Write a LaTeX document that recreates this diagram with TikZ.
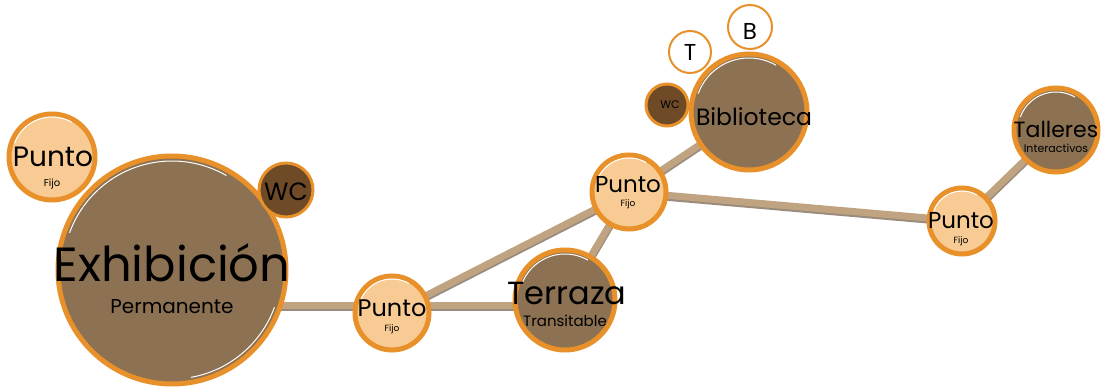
\documentclass[tikz,border=0pt]{standalone}
\usepackage{fontspec}
\setmainfont{Poppins}
\usetikzlibrary{backgrounds}
\definecolor{ring}{HTML}{E8902A}
\definecolor{light}{HTML}{F7CB93}
\definecolor{mid}{HTML}{8C7152}
\definecolor{dark}{HTML}{6E4A26}
\definecolor{link}{HTML}{C0A482}
\definecolor{linkshadow}{HTML}{9A8B7C}
\tikzset{
  room/.style={circle, draw=ring, line width=5pt, inner sep=0pt, minimum size=#1},
  lightroom/.style={room=#1, fill=light},
  midroom/.style={room=#1, fill=mid},
  darkroom/.style={room=#1, fill=dark, line width=3pt},
  smallroom/.style={circle, draw=ring, line width=2pt, fill=white, inner sep=0pt, minimum size=#1},
  txt/.style={inner sep=0pt, text=black, font=#1},
  link/.style={line width=7pt, draw=link},
  linksh/.style={line width=8pt, draw=linkshadow},
}
\begin{document}
\begin{tikzpicture}[x=1pt,y=-1pt]
\useasboundingbox (0,0) rectangle (1105,390);
% rooms
\node[midroom=228pt] (ex) at (172,270) {};
\node[lightroom=86pt] (p1) at (52,157) {};
\node[darkroom=54pt] (wc1) at (286,190) {};
\node[lightroom=74pt] (p2) at (392,313) {};
\node[midroom=100pt] (te) at (565,300) {};
\node[lightroom=74pt] (p3) at (629,192) {};
\node[midroom=116pt] (bi) at (749,112) {};
\node[darkroom=42pt] (wc2) at (667,105) {};
\node[smallroom=42pt] (t) at (690,52) {};
\node[smallroom=44pt] (b) at (750,27) {};
\node[midroom=84pt] (ta) at (1056,130) {};
\node[lightroom=66pt] (p4) at (962,221) {};
% inner highlights
\foreach \n/\r in {ex/109,p1/40,p2/34,te/46,p3/34,bi/54,ta/38,p4/30}{
  \draw[white, line width=1pt] (\n.center) ++(200:\r) arc[start angle=200, end angle=300, radius=\r];
}
\draw[white, line width=1pt] (ex.center) ++(20:109) arc[start angle=20, end angle=80, radius=109];
% connectors
\coordinate (p2a) at ([yshift=8pt]p2.center);
\begin{pgfonlayer}{background}
\foreach \a/\b in {p2/p3,p3/te,p3/bi,p3/p4,p4/ta}{
  \draw[linksh] ([yshift=-1.5pt]\a.center) -- ([yshift=-1.5pt]\b.center);
  \draw[link] (\a.center) -- (\b.center);
}
\draw[linksh] ([yshift=-1.5pt]ex.center |- p2a) -- ([yshift=-1.5pt]te.center |- p2a);
\draw[link] (ex.center |- p2a) -- (p2a) -- (te.center |- p2a);
\end{pgfonlayer}
% texts
\node[txt={\fontsize{48}{48}\selectfont}] (exT) at (172,263) {Exhibición};
\node[txt={\fontsize{20}{20}\selectfont}] (exS) at (172,307) {Permanente};
\node[txt={\fontsize{28}{28}\selectfont}] (p1T) at (53,157) {Punto};
\node[txt={\fontsize{10}{10}\selectfont}] (p1S) at (52,184) {Fijo};
\node[txt={\fontsize{25}{25}\selectfont}] (wc1T) at (286,192) {WC};
\node[txt={\fontsize{24}{24}\selectfont}] (p2T) at (392,308) {Punto};
\node[txt={\fontsize{9}{9}\selectfont}] (p2S) at (392,329) {Fijo};
\node[txt={\fontsize{32}{32}\selectfont}] (teT) at (567,293) {Terraza};
\node[txt={\fontsize{15}{15}\selectfont}] (teS) at (565,321) {Transitable};
\node[txt={\fontsize{23}{23}\selectfont}] (p3T) at (628,185) {Punto};
\node[txt={\fontsize{9}{9}\selectfont}] (p3S) at (628,204) {Fijo};
\node[txt={\fontsize{23.5}{23.5}\selectfont}] (biT) at (754,117) {Biblioteca};
\node[txt={\fontsize{11}{11}\selectfont}] (wc2T) at (670,105) {WC};
\node[txt={\fontsize{23}{23}\selectfont}] (tT) at (690,52) {T};
\node[txt={\fontsize{23}{23}\selectfont}] (bT) at (750,31) {B};
\node[txt={\fontsize{22}{22}\selectfont}] (taT) at (1056,129) {Talleres};
\node[txt={\fontsize{11}{11}\selectfont}] (taS) at (1056,148) {Interactivos};
\node[txt={\fontsize{23}{23}\selectfont}] (p4T) at (961,221) {Punto};
\node[txt={\fontsize{9}{9}\selectfont}] (p4S) at (961,241) {Fijo};
\end{tikzpicture}
\end{document}
